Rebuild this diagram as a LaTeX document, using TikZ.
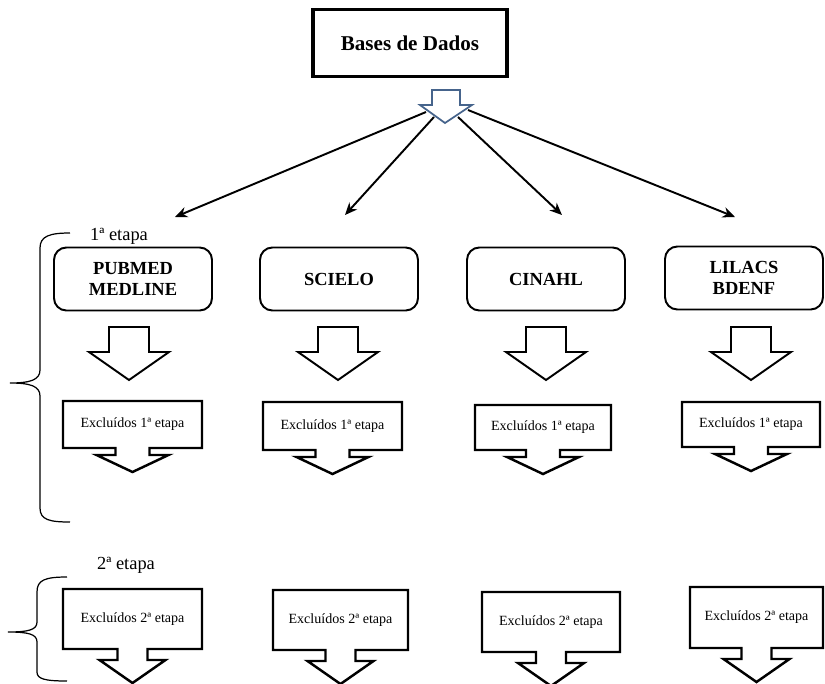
\documentclass[tikz,border=0pt]{standalone}
\usepackage{fontspec}
\setmainfont{Liberation Serif}
\usetikzlibrary{arrows.meta}
\definecolor{setaazul}{RGB}{70,100,140}

% caixa de excluidos com seta para baixo
\def\meiahaste{17}
\def\meiaponta{36}
\newcommand{\exclbox}[8]{%
  \draw[exclline] (#2,#3) -- (#4,#3) -- (#4,#5) -- ({(#2+#4)/2+\meiahaste},#5) -- ++(0,#6) -- ++({\meiaponta-\meiahaste},0)
    -- ({(#2+#4)/2},{#5+#6+#7}) -- ({(#2+#4)/2-\meiaponta},{#5+#6}) -- ++({\meiaponta-\meiahaste},0) -- ++(0,-#6) -- (#2,#5) -- cycle;
  \node[excltext] (#1) at ({(#2+#4)/2},{(#3+#5)/2}) {#8};}

\begin{document}
\begin{tikzpicture}[x=0.02cm,y=-0.02cm,
  titlebox/.style={draw,line width=2.2pt,minimum width=3.88cm,minimum height=1.34cm,font=\bfseries\fontsize{12}{14}\selectfont},
  dbbox/.style={draw,line width=1.1pt,rounded corners=7pt,minimum width=3.16cm,minimum height=1.26cm,align=center,font=\bfseries\fontsize{10.5}{12}\selectfont},
  exclline/.style={line width=1.4pt,fill=white,line join=miter},
  excltext/.style={font=\fontsize{8}{9}\selectfont},
  etapa/.style={font=\fontsize{10.5}{12}\selectfont},
  seta/.style={line width=1.1pt,-{Stealth[length=7pt,width=6pt]}},
  chave/.style={line width=0.7pt},
  bigarr/.pic={\draw[line width=1.1pt,fill=white] (-20,0) -- (20,0) -- (20,25) -- (40,25) -- (0,53) -- (-40,25) -- (-20,25) -- cycle;}]
\useasboundingbox (0,0) rectangle (825,683);

\node[titlebox] (bases) at (410,43) {Bases de Dados};

% conectores da seta azul
\coordinate (s1) at (426,112);
\coordinate (s2) at (434,117);
\coordinate (s3) at (458,117);
\coordinate (s4) at (468,110);
\coordinate (e1) at (175,217);
\coordinate (e2) at (345,215);
\coordinate (e3) at (562,215);
\coordinate (e4) at (735,217);
\draw[seta] (s1) -- (e1);
\draw[seta] (s2) -- (e2);
\draw[seta] (s3) -- (e3);
\draw[seta] (s4) -- (e4);
\draw[setaazul,line width=1pt,fill=white] (432,90) -- (460,90) -- (460,105) -- (472,105) -- (445,123) -- (420,105) -- (432,105) -- cycle;

% primeira etapa
\node[etapa] (etapa1) at (119,236) {1ª etapa};
\draw[chave] (70,233) .. controls (50,233) and (40,236) .. (40,248) -- (40,370) .. controls (40,380) and (30,383) .. (10,383)
  .. controls (30,383) and (40,386) .. (40,396) -- (40,508) .. controls (40,520) and (50,522) .. (70,522);

\node[dbbox] (pubmed) at (133,279) {PUBMED\\MEDLINE};
\node[dbbox] (scielo) at (339,279) {SCIELO};
\node[dbbox] (cinahl) at (546,279) {CINAHL};
\node[dbbox] (lilacs) at (744,278) {LILACS\\BDENF};

\pic at (129,327) {bigarr};
\pic at (338,327) {bigarr};
\pic at (546,327) {bigarr};
\pic at (751,327) {bigarr};

\exclbox{exa1}{63}{401}{202}{448}{7}{17}{Excluídos 1ª etapa}
\exclbox{exa2}{263}{402}{402}{450}{7}{17}{Excluídos 1ª etapa}
\exclbox{exa3}{475}{405}{611}{450}{7}{17}{Excluídos 1ª etapa}
\exclbox{exa4}{682}{402}{820}{447}{7}{17}{Excluídos 1ª etapa}

% segunda etapa
\node[etapa] (etapa2) at (126,565) {2ª etapa};
\draw[chave] (67,577) .. controls (45,577) and (37,580) .. (37,592) -- (37,622) .. controls (37,630) and (28,632) .. (8,632)
  .. controls (28,632) and (37,634) .. (37,642) -- (37,672) .. controls (37,679) and (45,681) .. (67,681);

\def\meiahaste{15}
\def\meiaponta{33}
\exclbox{exb1}{63}{589}{202}{649}{11}{23}{Excluídos 2ª etapa}
\exclbox{exb2}{273}{590}{408}{650}{11}{23}{Excluídos 2ª etapa}
\exclbox{exb3}{482}{592}{620}{652}{11}{23}{Excluídos 2ª etapa}
\exclbox{exb4}{690}{587}{823}{648}{11}{23}{Excluídos 2ª etapa}
\end{tikzpicture}
\end{document}
